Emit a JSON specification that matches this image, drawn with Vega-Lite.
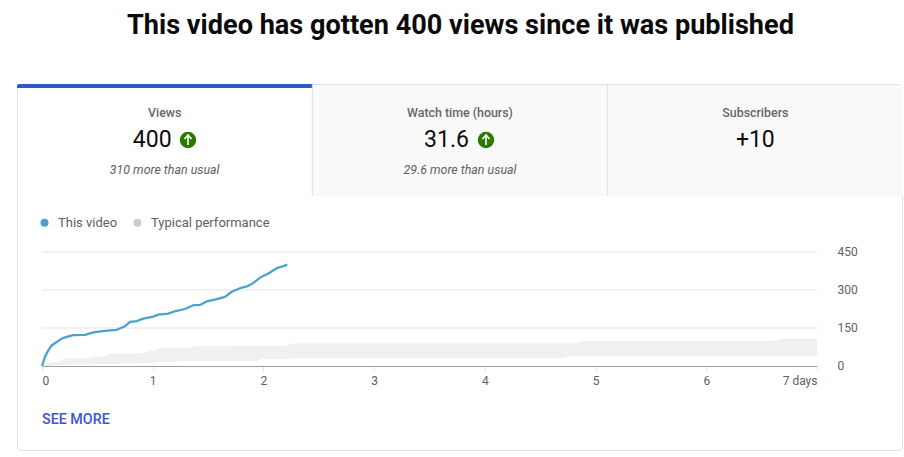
{
"$schema":"https://vega.github.io/schema/vega-lite/v6.json",
"width":904,"height":457,"padding":0,"autosize":{"type":"none"},"background":"white",
"config":{"view":{"stroke":null},"font":"Roboto"},
"datasets":{
"tabs":[{"tab":"Views","value":"400","note":"310 more than usual"},{"tab":"Watch time (hours)","value":"31.6","note":"29.6 more than usual"},{"tab":"Subscribers","value":"+10","note":""}],
"grid":[{"v":150,"a":0,"b":7},{"v":300,"a":0,"b":7},{"v":450,"a":0,"b":7}],
"band":[{"day":0,"low":0,"high":0,"series":"Typical performance"},{"day":0.09,"low":2,"high":16,"series":"Typical performance"},{"day":0.16,"low":4,"high":17,"series":"Typical performance"},{"day":0.19,"low":5,"high":29,"series":"Typical performance"},{"day":0.42,"low":6,"high":30,"series":"Typical performance"},{"day":0.46,"low":8,"high":37,"series":"Typical performance"},{"day":0.58,"low":8,"high":38,"series":"Typical performance"},{"day":0.62,"low":8,"high":49,"series":"Typical performance"},{"day":0.92,"low":10,"high":50,"series":"Typical performance"},{"day":0.96,"low":12,"high":58,"series":"Typical performance"},{"day":1.02,"low":14,"high":60,"series":"Typical performance"},{"day":1.05,"low":16,"high":70,"series":"Typical performance"},{"day":1.33,"low":19,"high":71,"series":"Typical performance"},{"day":1.37,"low":19,"high":78,"series":"Typical performance"},{"day":1.93,"low":19,"high":79,"series":"Typical performance"},{"day":1.98,"low":28,"high":79,"series":"Typical performance"},{"day":2.21,"low":28,"high":80,"series":"Typical performance"},{"day":2.25,"low":31,"high":89,"series":"Typical performance"},{"day":4.72,"low":31,"high":89,"series":"Typical performance"},{"day":4.76,"low":39,"high":89,"series":"Typical performance"},{"day":4.83,"low":39,"high":90,"series":"Typical performance"},{"day":4.88,"low":39,"high":98,"series":"Typical performance"},{"day":6.62,"low":39,"high":98,"series":"Typical performance"},{"day":6.68,"low":39,"high":108,"series":"Typical performance"},{"day":7,"low":39,"high":108,"series":"Typical performance"}],
"line":[{"day":0,"views":0},{"day":0.027,"views":36},{"day":0.057,"views":62},{"day":0.087,"views":81},{"day":0.133,"views":95},{"day":0.178,"views":108},{"day":0.223,"views":115},{"day":0.283,"views":122},{"day":0.388,"views":123},{"day":0.463,"views":133},{"day":0.569,"views":139},{"day":0.675,"views":143},{"day":0.75,"views":157},{"day":0.795,"views":174},{"day":0.855,"views":177},{"day":0.915,"views":187},{"day":1.006,"views":195},{"day":1.05,"views":203},{"day":1.141,"views":207},{"day":1.2,"views":216},{"day":1.29,"views":225},{"day":1.367,"views":240},{"day":1.427,"views":241},{"day":1.487,"views":255},{"day":1.562,"views":262},{"day":1.653,"views":273},{"day":1.714,"views":293},{"day":1.789,"views":307},{"day":1.85,"views":314},{"day":1.91,"views":328},{"day":1.97,"views":349},{"day":2.045,"views":365},{"day":2.12,"views":386},{"day":2.174,"views":393},{"day":2.216,"views":400}]
},
"resolve":{"scale":{"x":"independent","y":"independent"}},
"layer":[
{"data":{"values":[{"t":"This video has gotten 400 views since it was published"}]},"mark":{"type":"text","x":460.5,"y":26,"fontSize":27.1,"fontWeight":"bold","font":"Roboto","color":"#0a0a0a","align":"center","baseline":"middle"},"encoding":{"text":{"field":"t"}}},
{"data":{"values":[{"c":"card"}]},"mark":{"type":"rect","x":17.5,"x2":902.5,"y":84.5,"y2":450.5,"fill":"white","stroke":"#e0e0e0","cornerRadius":4},"encoding":{}},
{"data":{"name":"tabs"},"transform":[{"filter":"datum.tab!='Views'"}],"mark":{"type":"rect","y":85,"y2":196,"fill":"#f9f9f9"},"encoding":{"x":{"field":"tab","type":"nominal","sort":null,"axis":null,"scale":{"domain":["Views","Watch time (hours)","Subscribers"],"range":[17,903],"paddingInner":0,"paddingOuter":0}}}},
{"data":{"name":"tabs"},"transform":[{"filter":"datum.tab=='Views'"}],"mark":{"type":"rect","y":84,"y2":88,"fill":"#2c5bc8","cornerRadiusTopLeft":3},"encoding":{"x":{"field":"tab","type":"nominal","sort":null,"axis":null,"scale":{"domain":["Views","Watch time (hours)","Subscribers"],"range":[17,903],"paddingInner":0,"paddingOuter":0}}}},
{"data":{"name":"tabs"},"transform":[{"filter":"datum.tab!='Views'"}],"mark":{"type":"rule","y":85,"y2":196,"stroke":"#dedede","strokeWidth":1},"encoding":{"x":{"field":"tab","type":"nominal","bandPosition":0,"axis":null,"scale":{"domain":["Views","Watch time (hours)","Subscribers"],"range":[17,903],"paddingInner":0,"paddingOuter":0}}}},
{"data":{"name":"tabs"},"mark":{"type":"text","y":113,"fontSize":12.4,"fontWeight":500,"font":"Roboto","color":"#666666","align":"center","baseline":"middle"},"encoding":{"text":{"field":"tab"},"x":{"field":"tab","type":"nominal","bandPosition":0.5,"axis":null,"scale":{"domain":["Views","Watch time (hours)","Subscribers"],"range":[17,903],"paddingInner":0,"paddingOuter":0}}}},
{"data":{"name":"tabs"},"mark":{"type":"text","y":170,"fontSize":12.4,"fontStyle":"italic","font":"Roboto","color":"#606060","align":"center","baseline":"middle"},"encoding":{"text":{"field":"note"},"x":{"field":"tab","type":"nominal","bandPosition":0.5,"axis":null,"scale":{"domain":["Views","Watch time (hours)","Subscribers"],"range":[17,903],"paddingInner":0,"paddingOuter":0}}}},
{"data":{"name":"tabs"},"transform":[{"filter":"datum.tab=='Views'"}],"mark":{"type":"text","y":140,"dx":-12.5,"fontSize":23,"font":"Roboto","color":"#0d0d0d","align":"center","baseline":"middle"},"encoding":{"text":{"field":"value"},"x":{"field":"tab","type":"nominal","bandPosition":0.5,"axis":null,"scale":{"domain":["Views","Watch time (hours)","Subscribers"],"range":[17,903],"paddingInner":0,"paddingOuter":0}}}},
{"data":{"name":"tabs"},"transform":[{"filter":"datum.tab=='Watch time (hours)'"}],"mark":{"type":"text","y":140,"dx":-13.5,"fontSize":23,"font":"Roboto","color":"#0d0d0d","align":"center","baseline":"middle"},"encoding":{"text":{"field":"value"},"x":{"field":"tab","type":"nominal","bandPosition":0.5,"axis":null,"scale":{"domain":["Views","Watch time (hours)","Subscribers"],"range":[17,903],"paddingInner":0,"paddingOuter":0}}}},
{"data":{"name":"tabs"},"transform":[{"filter":"datum.tab=='Subscribers'"}],"mark":{"type":"text","y":140,"fontSize":23,"font":"Roboto","color":"#0d0d0d","align":"center","baseline":"middle"},"encoding":{"text":{"field":"value"},"x":{"field":"tab","type":"nominal","bandPosition":0.5,"axis":null,"scale":{"domain":["Views","Watch time (hours)","Subscribers"],"range":[17,903],"paddingInner":0,"paddingOuter":0}}}},
{"data":{"values":[{"day":0}]},"mark":{"type":"text","x":42,"y":419.5,"text":"SEE MORE","fontSize":14.3,"fontWeight":500,"font":"Roboto","color":"#3b57cc","align":"left","baseline":"middle"},"encoding":{}},
{"data":{"values":[{"arrow":"Views","ax":188},{"arrow":"Watch","ax":486}]},"mark":{"type":"point","shape":"circle","filled":true,"size":270,"y":140,"color":"#2b7a00","opacity":1},"encoding":{"x":{"field":"ax","type":"quantitative","axis":null,"scale":{"domain":[0,904],"range":[0,904]}}}},
{"data":{"values":[{"arrow":"Views","ax":188},{"arrow":"Watch","ax":486}]},"mark":{"type":"point","shape":"M0,0.7L0,-0.7M-0.5,-0.15L0,-0.7L0.5,-0.15","filled":false,"size":200,"strokeWidth":1.6,"y":140,"color":"white","opacity":1},"encoding":{"x":{"field":"ax","type":"quantitative","axis":null,"scale":{"domain":[0,904],"range":[0,904]}}}},
{"data":{"name":"grid"},"mark":{"type":"rule","stroke":"#eeeeee","strokeWidth":1.5},"encoding":{
"x":{"field":"a","type":"quantitative","axis":null,"scale":{"domain":[0,7],"range":[42,817]}},"x2":{"field":"b"},
"y":{"field":"v","type":"quantitative","axis":null,"scale":{"domain":[0,450],"range":[366,252]}}}},
{"data":{"name":"band"},"mark":{"type":"area","interpolate":"linear","opacity":0.3},"encoding":{
"x":{"field":"day","type":"quantitative","axis":{"orient":"bottom","offset":-91,"values":[0,1,2,3,4,5,6,7],"grid":false,"zindex":1,"title":null,"labelExpr":"datum.value==7?'7 days':datum.label","labelAlign":{"expr":"datum.value==0?'left':datum.value==7?'right':'center'"},"labelBound":false,"labelFlush":false,"labelOverlap":false,"labelFont":"Roboto","labelFontSize":12,"labelColor":"#606060","labelPadding":3,"tickColor":"#e6e6e6","tickSize":6,"tickWidth":1,"domainColor":"#9e9e9e","domainWidth":1},"scale":{"domain":[0,7],"range":[42,817]}},
"y":{"field":"high","type":"quantitative","axis":{"orient":"right","offset":-87,"values":[0,150,300,450],"grid":false,"zindex":1,"title":null,"domain":false,"ticks":false,"labelPadding":20,"labelOffset":-1,"labelBound":false,"labelFlush":false,"labelOverlap":false,"labelFont":"Roboto","labelFontSize":12,"labelColor":"#606060"},"scale":{"domain":[0,450],"range":[366,252]}},
"y2":{"field":"low"},
"color":{"field":"series","type":"nominal","scale":{"domain":["This video","Typical performance"],"range":["#4ba3cc","#cccccc"]},"legend":{"orient":"none","legendX":38,"legendY":216,"direction":"horizontal","title":null,"symbolType":"circle","symbolSize":64,"symbolOpacity":1,"symbolStrokeWidth":0,"labelFont":"Roboto","labelFontSize":13,"labelColor":"#606060","labelOffset":7,"columnPadding":13,"encode":{"symbols":{"update":{"fill":{"field":"value","scale":"color"},"opacity":{"value":1}}}}}}}},
{"data":{"name":"line"},"transform":[{"calculate":"'This video'","as":"series"}],"mark":{"type":"line","interpolate":"linear","strokeWidth":2.3,"strokeJoin":"round"},"encoding":{
"x":{"field":"day","type":"quantitative","axis":null,"scale":{"domain":[0,7],"range":[42,817]}},
"y":{"field":"views","type":"quantitative","axis":null,"scale":{"domain":[0,450],"range":[366,252]}},
"color":{"field":"series","type":"nominal"}}}
]}
